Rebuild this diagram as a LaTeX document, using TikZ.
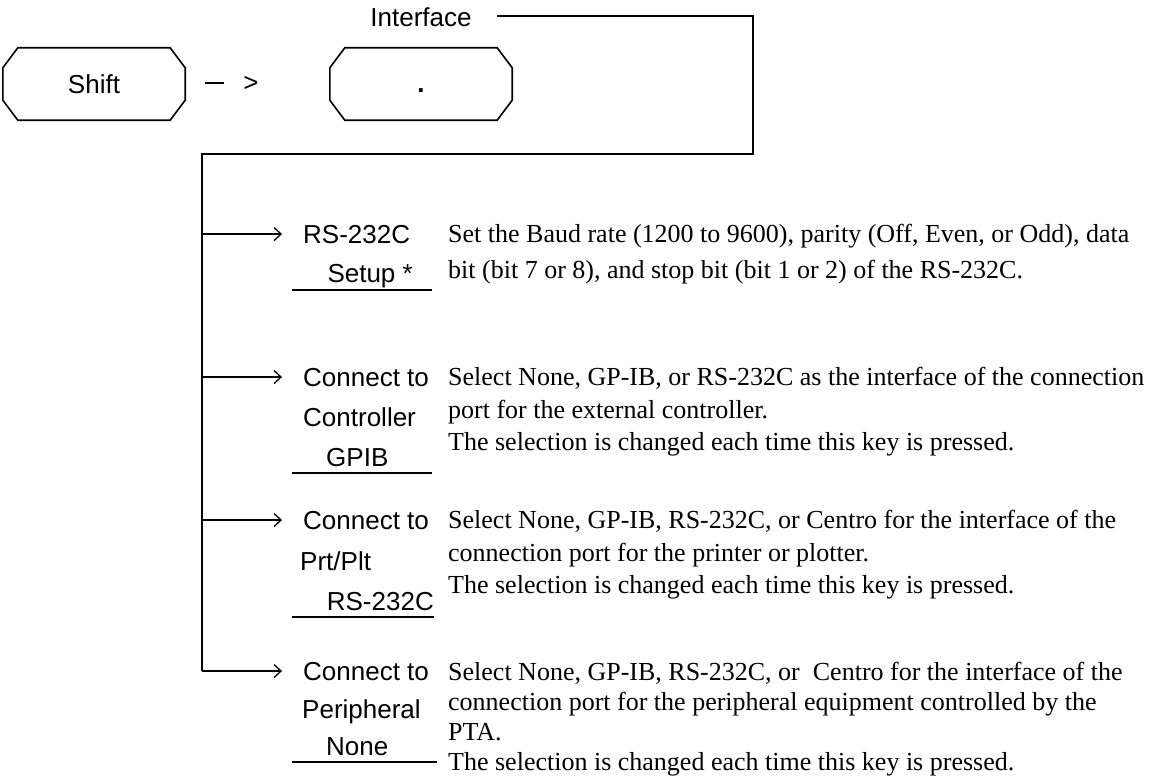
\documentclass[tikz,border=0pt]{standalone}
\usepackage{fontspec}
\setmainfont{Liberation Serif}
\setsansfont{Liberation Sans}
\usetikzlibrary{arrows.meta,calc}
\begin{document}
\begin{tikzpicture}[x=1pt,y=-1pt,
  ln/.style={line width=1.6pt},
  arr/.style={line width=1.6pt,-{Straight Barb[length=7pt,width=13pt,line width=1.3pt]}},
  keybox/.style={minimum width=182pt,minimum height=72pt,inner sep=0pt,font=\sffamily\fontsize{26}{30}\selectfont},
  sans/.style={inner sep=0pt,font=\sffamily\fontsize{26}{30}\selectfont},
  serif/.style={inner sep=0pt,anchor=base west,font=\rmfamily\fontsize{26}{31}\selectfont}]
\useasboundingbox (0,0) rectangle (1160,776);
\fill[white] (0,0) rectangle (1160,776);
% key boxes
\node[keybox] (shift) at (94,84) {Shift};
\node[keybox] (dot) at (421,84) {\vphantom{S}\textbf{.}};
\foreach \k in {shift,dot}{
  \draw[ln] ($(\k.north west)+(15,0)$) -- ($(\k.north east)+(-15,0)$) -- ($(\k.north east)+(0,20)$)
    -- ($(\k.south east)+(0,-20)$) -- ($(\k.south east)+(-15,0)$) -- ($(\k.south west)+(15,0)$)
    -- ($(\k.south west)+(0,-20)$) -- ($(\k.north west)+(0,20)$) -- cycle;
}
\node[sans] (then) at (232,84) {\rule[8pt]{19pt}{1.6pt}\hspace{19pt}>};
\node[sans] (iface) at (421,17) {Interface};
% main connector frame
\coordinate (ifl) at (497,16);
\coordinate (ir) at (753,16);
\coordinate (tr) at (753,154);
\coordinate (tl) at (202,154);
% group 1
\node[sans,anchor=base west] (k1a) at (303,243) {RS-232C};
\node[sans,anchor=base east] (k1b) at (413,282) {Setup *};
\draw[ln] (292,290) -- (432,290);
\node[serif] (d1a) at (448,242) {Set the Baud rate (1200 to 9600), parity (Off, Even, or Odd), data};
\node[serif] (d1b) at (448,278) {bit (bit 7 or 8), and stop bit (bit 1 or 2) of the RS-232C.};
% group 2
\node[sans,anchor=base west] (k2a) at (303,386) {Connect to};
\node[sans,anchor=base west] (k2b) at (303,426) {Controller};
\node[sans,anchor=base west] (k2c) at (326,466) {GPIB};
\draw[ln] (292,473) -- (432,473);
\node[serif] (d2a) at (448,385) {Select None, GP-IB, or RS-232C as the interface of the connection};
\node[serif] (d2b) at (448,418) {port for the external controller.};
\node[serif] (d2c) at (448,450) {The selection is changed each time this key is pressed.};
% group 3
\node[sans,anchor=base west] (k3a) at (303,529) {Connect to};
\node[sans,anchor=base west] (k3b) at (300,570) {Prt/Plt};
\node[sans,anchor=base east] (k3c) at (434,610) {RS-232C};
\draw[ln] (292,617) -- (434,617);
\node[serif] (d3a) at (448,528) {Select None, GP-IB, RS-232C, or Centro for the interface of the};
\node[serif] (d3b) at (448,561) {connection port for the printer or plotter.};
\node[serif] (d3c) at (448,593) {The selection is changed each time this key is pressed.};
% group 4
\node[sans,anchor=base west] (k4a) at (303,680) {Connect to};
\node[sans,anchor=base west] (k4b) at (302,718) {Peripheral};
\node[sans,anchor=base west] (k4c) at (326,755) {None};
\draw[ln] (292,762) -- (437,762);
\node[serif] (d4a) at (448,680) {Select None, GP-IB, RS-232C, or\ \ Centro for the interface of the};
\node[serif] (d4b) at (448,710) {connection port for the peripheral equipment controlled by the};
\node[serif] (d4c) at (448,740) {PTA.};
\node[serif] (d4d) at (448,770) {The selection is changed each time this key is pressed.};
% connectors
\draw[ln] (ifl) -- (ir) -- (tr) -- (tl) -- (tl |- k4a.west);
\draw[arr] (tl |- k1a.west) -- ++(80,0);
\draw[arr] (tl |- k2a.west) -- ++(80,0);
\draw[arr] (tl |- k3a.west) -- ++(80,0);
\draw[arr] (tl |- k4a.west) -- ++(80,0);
\end{tikzpicture}
\end{document}
